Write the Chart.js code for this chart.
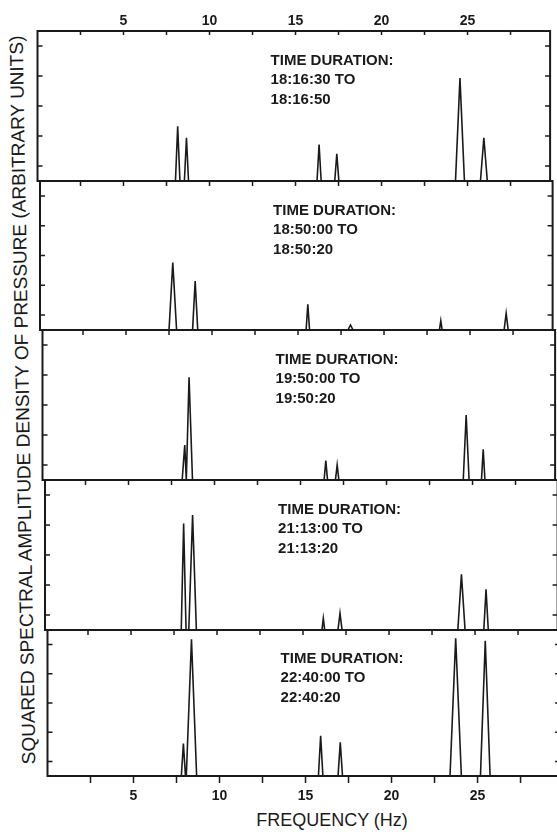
<!DOCTYPE html>
<html>
<head>
<meta charset="utf-8">
<script src="https://cdn.jsdelivr.net/npm/chart.js@4.4.1/dist/chart.umd.min.js"></script>
<style>
  html, body { margin: 0; padding: 0; background: #fff; }
  #page { position: relative; width: 557px; height: 832px; overflow: hidden; background: #fff; }
  #page canvas { position: absolute; left: 0; top: 0; }
  .title { position: absolute; white-space: nowrap; color: #1a1a1a; font-family: "Liberation Sans", Arial, sans-serif; }
  #ytitle { left: 23px; top: 400px; font-size: 19px; transform: translate(-50%, -50%) rotate(-91deg); }
  #xtitle { left: 332px; top: 820px; font-size: 18px; transform: translate(-50%, -50%); }
</style>
</head>
<body>
<div id="page">
  <div class="title" id="ytitle">SQUARED SPECTRAL AMPLITUDE DENSITY OF PRESSURE (ARBITRARY UNITS)</div>
  <div class="title" id="xtitle">FREQUENCY (Hz)</div>
</div>
<script>
// data: frequency (Hz) and amplitude (0-10) for each panel
const freq1 = [0, 8.02, 8.15, 8.28, 8.54, 8.66, 8.78, 16.25, 16.37, 16.49, 17.28, 17.4, 17.52, 24.3, 24.56, 24.82, 25.75, 25.95, 26.15, 29.8];
const amp1  = [0, 0, 3.65, 0, 0, 2.88, 0, 0, 2.43, 0, 0, 1.82, 0, 0, 6.86, 0, 0, 2.88, 0, 0];

const freq2 = [0, 7.5, 7.72, 7.94, 8.87, 9.02, 9.17, 15.47, 15.57, 15.67, 17.9, 18.05, 18.2, 23.22, 23.3, 23.38, 26.98, 27.1, 27.22, 29.8];
const amp2  = [0, 0, 4.52, 0, 0, 3.29, 0, 0, 1.72, 0, 0, 0.34, 0, 0, 0.62, 0, 0, 1.12, 0, 0];

const freq3 = [0, 8.12, 8.27, 8.36, 8.52, 8.72, 16.37, 16.47, 16.57, 17.03, 17.13, 17.23, 24.46, 24.63, 24.8, 25.52, 25.62, 25.72, 29.8];
const amp3  = [0, 0, 2.33, 0, 6.85, 0, 0, 1.29, 0, 0, 1.0, 0, 0, 4.33, 0, 0, 2.05, 0, 0];

const freq4 = [0, 7.92, 8.06, 8.2, 8.36, 8.58, 8.8, 16.1, 16.18, 16.26, 17.03, 17.15, 17.27, 24.0, 24.21, 24.42, 25.51, 25.64, 25.77, 29.8];
const amp4  = [0, 0, 7.1, 0, 0, 7.67, 0, 0, 0.78, 0, 0, 1.11, 0, 0, 3.71, 0, 0, 2.71, 0, 0];

const freq5 = [0, 7.78, 7.9, 8.02, 8.07, 8.37, 8.67, 15.75, 15.88, 16.01, 16.89, 17.02, 17.15, 23.4, 23.73, 24.06, 25.17, 25.45, 25.73, 29.8];
const amp5  = [0, 0, 2.23, 0, 0, 9.36, 0, 0, 2.76, 0, 0, 2.3, 0, 0, 9.43, 0, 0, 9.26, 0, 0];

const durations = [
  ['TIME DURATION:', '18:16:30 TO', '18:16:50'],
  ['TIME DURATION:', '18:50:00 TO', '18:50:20'],
  ['TIME DURATION:', '19:50:00 TO', '19:50:20'],
  ['TIME DURATION:', '21:13:00 TO', '21:13:20'],
  ['TIME DURATION:', '22:40:00 TO', '22:40:20']
];

const xTicks = [2.5, 5, 7.5, 10, 12.5, 15, 17.5, 20, 22.5, 25, 27.5];
const xLabels = [5, 10, 15, 20, 25];
const yTicks = [1, 3, 5, 7, 9];

// layout (the scan is slightly sheared, so each panel sits a bit further right)
const ink = '#1a1a1a';
const canvasW = 620, canvasH = 832;
const plotW = 512.6;
const panelLeft = [37.5, 40, 42.5, 45, 47.5];
const panelTop = [31, 181, 330, 480, 630];
const panelBottom = [181, 330, 480, 630, 776];

const series = [[freq1, amp1], [freq2, amp2], [freq3, amp3], [freq4, amp4], [freq5, amp5]];

const framePlugin = {
  id: 'frame',
  afterDatasetsDraw(chart, args, opts) {
    const { ctx, chartArea: a, scales: { x, y } } = chart;
    ctx.save();
    ctx.strokeStyle = ink;
    ctx.lineWidth = 2;
    ctx.strokeRect(a.left, a.top, a.right - a.left, a.bottom - a.top);

    ctx.lineWidth = 1.5;
    ctx.beginPath();
    xTicks.forEach(t => {
      const px = x.getPixelForValue(t);
      ctx.moveTo(px, a.bottom);
      ctx.lineTo(px, a.bottom + (opts.last ? 7 : 5));
      if (opts.first) {
        ctx.moveTo(px, a.top);
        ctx.lineTo(px, a.top + 4);
      }
    });
    yTicks.forEach(t => {
      const py = y.getPixelForValue(t);
      ctx.moveTo(a.left, py);
      ctx.lineTo(a.left + 5, py);
      ctx.moveTo(a.right, py);
      ctx.lineTo(a.right - 5, py);
    });
    ctx.stroke();

    // time duration note
    ctx.fillStyle = ink;
    ctx.font = 'bold 15px "Liberation Sans", Arial, sans-serif';
    ctx.textBaseline = 'alphabetic';
    const tx = x.getPixelForValue(13.55);
    const ty = y.getPixelForValue(7.75);
    opts.lines.forEach((s, k) => ctx.fillText(s, tx, ty + k * 19.5));
    ctx.restore();
  }
};

const page = document.getElementById('page');

series.forEach(([f, amp], i) => {
  const cv = document.createElement('canvas');
  cv.width = canvasW;
  cv.height = canvasH;
  page.appendChild(cv);

  const first = i === 0, last = i === 4;
  const axisH = first ? 22 : (last ? 44 : 0);

  new Chart(cv, {
    type: 'line',
    data: {
      datasets: [{
        data: f.map((v, k) => ({ x: v, y: amp[k] })),
        borderColor: ink,
        borderWidth: 1.6,
        pointRadius: 0,
        tension: 0,
        fill: false
      }]
    },
    options: {
      responsive: false,
      animation: false,
      devicePixelRatio: 1,
      layout: {
        padding: {
          left: panelLeft[i],
          right: canvasW - panelLeft[i] - plotW,
          top: first ? panelTop[i] - axisH : panelTop[i],
          bottom: last ? canvasH - panelBottom[i] - axisH : canvasH - panelBottom[i]
        }
      },
      plugins: {
        legend: { display: false },
        tooltip: { enabled: false },
        frame: { first: first, last: last, lines: durations[i] }
      },
      scales: {
        x: {
          type: 'linear',
          min: 0,
          max: 29.8,
          display: first || last,
          position: first ? 'top' : 'bottom',
          grid: { display: false, drawTicks: false },
          border: { display: false },
          ticks: {
            stepSize: 5,
            includeBounds: false,
            autoSkip: false,
            maxRotation: 0,
            padding: first ? 1 : 12,
            color: ink,
            font: { family: '"Liberation Sans", Arial, sans-serif', size: 14, weight: 'bold' },
            callback: v => xLabels.includes(v) ? String(v) : ''
          },
          afterFit: s => { s.height = axisH; }
        },
        y: { min: 0, max: 10, display: false }
      }
    },
    plugins: [framePlugin]
  });
});
</script>
</body>
</html>
